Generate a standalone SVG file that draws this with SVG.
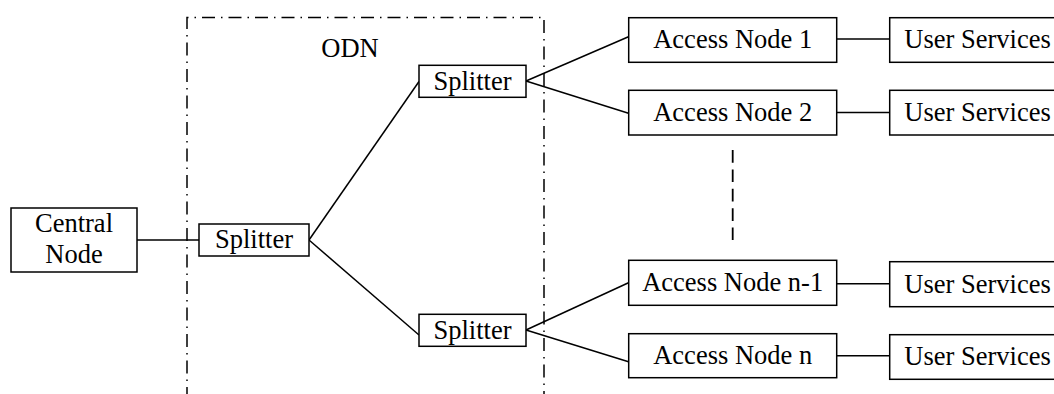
<svg xmlns="http://www.w3.org/2000/svg" width="1054" height="394" viewBox="0 0 1054 394">
<style>
.box{fill:#fff;stroke:#000;stroke-width:1.5}
.t{font-family:"Liberation Serif","Times New Roman",serif;font-size:26.5px;fill:#000;text-anchor:middle}
.ln{stroke:#000;stroke-width:1.5;fill:none}
.odn{stroke:#000;stroke-width:1.5;fill:none;stroke-dasharray:13 6 1.5 6}
.dots{stroke:#000;stroke-width:1.8;fill:none;stroke-dasharray:12.7 6.7}
</style>
<rect width="1054" height="394" fill="#fff"/>
<g id="odn-boundary">
<path class="odn" d="M187,400 V17.5 H544 V400"/>
<text class="t" x="350" y="57">ODN</text>
</g>
<g id="connectors">
<line class="ln" x1="137" y1="240" x2="199" y2="240"/>
<line class="ln" x1="309" y1="240" x2="419" y2="81.5"/>
<line class="ln" x1="309" y1="240" x2="419" y2="335"/>
<line class="ln" x1="526" y1="81" x2="628.5" y2="36.7"/>
<line class="ln" x1="526" y1="81" x2="628.5" y2="113.3"/>
<line class="ln" x1="526" y1="330" x2="628.5" y2="282.7"/>
<line class="ln" x1="526" y1="330" x2="628.5" y2="361.7"/>
<line class="ln" x1="837" y1="39" x2="890" y2="39"/>
<line class="ln" x1="837" y1="112.5" x2="890" y2="112.5"/>
<line class="ln" x1="837" y1="283.7" x2="890" y2="283.7"/>
<line class="ln" x1="837" y1="355.7" x2="890" y2="355.7"/>
<line class="dots" x1="732.7" y1="150" x2="732.7" y2="240"/>
</g>
<g id="central-node">
<rect class="box" x="11" y="208" width="126" height="64"/>
<text class="t" x="74" y="232">Central</text>
<text class="t" x="74" y="263">Node</text>
</g>
<g id="splitter-main">
<rect class="box" x="199" y="224" width="110" height="32"/>
<text class="t" x="254" y="248">Splitter</text>
</g>
<g id="splitter-top">
<rect class="box" x="419" y="65.3" width="107" height="32"/>
<text class="t" x="472.5" y="89.5">Splitter</text>
</g>
<g id="splitter-bottom">
<rect class="box" x="419" y="314.3" width="107" height="32"/>
<text class="t" x="472.5" y="338.5">Splitter</text>
</g>
<g id="access-node-1">
<rect class="box" x="628.7" y="17.7" width="208" height="44.6"/>
<text class="t" x="732.7" y="48">Access Node 1</text>
</g>
<g id="access-node-2">
<rect class="box" x="628.7" y="90.3" width="208" height="44.7"/>
<text class="t" x="732.7" y="121">Access Node 2</text>
</g>
<g id="access-node-n-1">
<rect class="box" x="628.7" y="260.3" width="208" height="45"/>
<text class="t" x="732.7" y="291">Access Node n-1</text>
</g>
<g id="access-node-n">
<rect class="box" x="628.7" y="333.7" width="208" height="44"/>
<text class="t" x="732.7" y="364">Access Node n</text>
</g>
<g id="user-services-1">
<rect class="box" x="889.7" y="17.7" width="180" height="44.6"/>
<text class="t" x="977.5" y="48">User Services</text>
</g>
<g id="user-services-2">
<rect class="box" x="889.7" y="90.3" width="180" height="44.7"/>
<text class="t" x="977.5" y="121">User Services</text>
</g>
<g id="user-services-n-1">
<rect class="box" x="889.7" y="261.7" width="180" height="45"/>
<text class="t" x="977.5" y="292.5">User Services</text>
</g>
<g id="user-services-n">
<rect class="box" x="889.7" y="334.7" width="180" height="44.6"/>
<text class="t" x="977.5" y="365">User Services</text>
</g>
</svg>
